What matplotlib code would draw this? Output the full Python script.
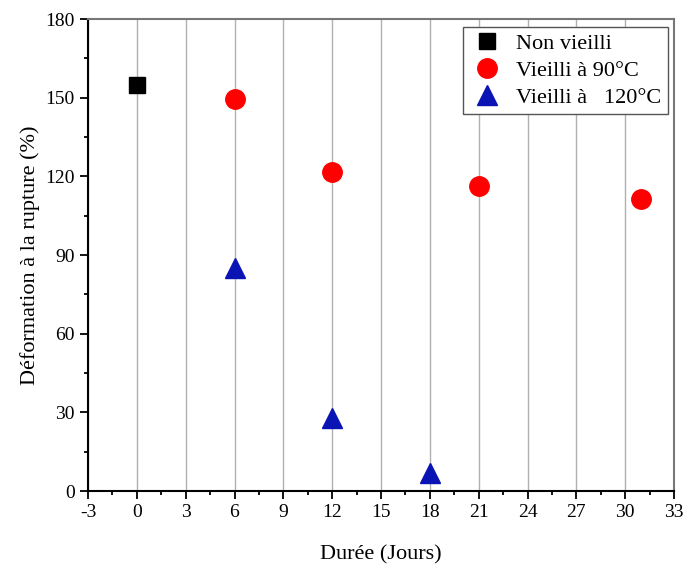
import matplotlib
matplotlib.use("Agg")
import matplotlib.pyplot as plt
from matplotlib.ticker import MultipleLocator

plt.rcParams["font.family"] = ["Liberation Serif", "DejaVu Serif"]
plt.rcParams["axes.unicode_minus"] = False

# Données
x_nv = [0]
y_nv = [155]
x_90 = [6, 12, 21, 31]
y_90 = [149.5, 121.5, 116.5, 111.5]
x_120 = [6, 12, 18]
y_120 = [85, 28, 7]

fig = plt.figure(figsize=(6.85, 5.65), dpi=100)
ax = fig.add_axes([88 / 685, 1 - 491 / 565, (674 - 88) / 685, (491 - 19) / 565])

ax.plot(x_nv, y_nv, "s", color="black", markersize=12, label="Non vieilli", zorder=3)
ax.plot(x_90, y_90, "o", color="red", markersize=14, label="Vieilli à 90°C", zorder=3)
ax.plot(x_120, y_120, "^", color="#0a14b4", markersize=14, label="Vieilli à   120°C", zorder=3)

ax.set_xlim(-3, 33)
ax.set_ylim(0, 180)
ax.xaxis.set_major_locator(MultipleLocator(3))
ax.xaxis.set_minor_locator(MultipleLocator(1.5))
ax.yaxis.set_major_locator(MultipleLocator(30))
ax.yaxis.set_minor_locator(MultipleLocator(15))
ax.grid(True, axis="x", which="major", color="#b0b0b0", linewidth=1)
ax.tick_params(which="major", direction="out", length=6, width=1.3, labelsize=14)
ax.tick_params(which="minor", direction="out", length=3, width=1.3)
for s in ["left", "bottom"]:
    ax.spines[s].set_linewidth(1.5)
for s in ["top", "right"]:
    ax.spines[s].set_color("#777777")
    ax.spines[s].set_linewidth(1.5)

ax.set_xlabel("Durée (Jours)", fontsize=16, labelpad=17)
ax.set_ylabel("Déformation à la rupture (%)", fontsize=16, labelpad=4)

leg = ax.legend(loc="upper right", fontsize=16, fancybox=False, framealpha=1,
                edgecolor="#555555", handletextpad=0.5, handlelength=1.6,
                borderpad=0.3, labelspacing=0.28, borderaxespad=0,
                bbox_to_anchor=(0.99, 0.983))
leg.get_frame().set_linewidth(1)

fig.savefig("out.png", dpi=100)
